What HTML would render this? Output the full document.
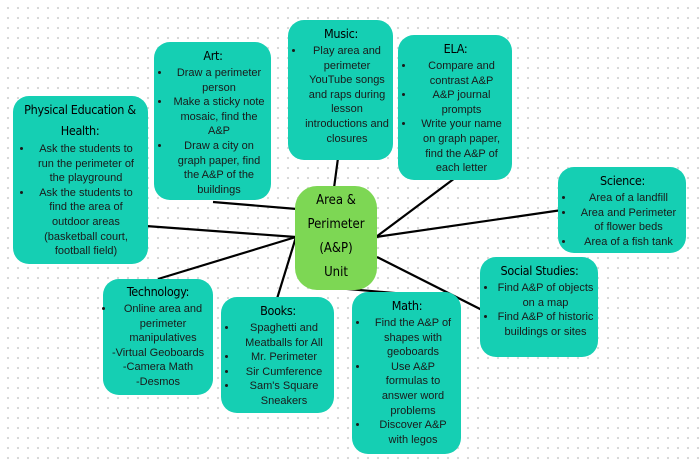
<!DOCTYPE html>
<html><head><meta charset="utf-8"><style>
body{margin:0;width:700px;height:462px;overflow:hidden;background:#fff;background-image:radial-gradient(circle,#d6d6d6 1px,transparent 1.3px);background-size:10px 10px;background-position:3px 3px;font-family:"Liberation Sans",sans-serif;position:relative}
.b{position:absolute;background:#15cfb3;border-radius:16px;box-sizing:border-box;padding:5px 4px 4px 5px;color:#1a1a1a;font-size:11px;line-height:14.6px;text-align:center}
.b h{display:block;font-family:"DejaVu Sans Condensed","Liberation Sans Narrow",sans-serif;font-size:12.5px;line-height:18px;color:#000;margin-bottom:1px;letter-spacing:-0.3px}
ul{margin:0;padding:0 0 0 12px;list-style:disc}
.c{position:absolute;left:295px;top:186px;width:82px;height:104px;background:#7dd754;border-radius:22px;text-align:center;font-family:"DejaVu Sans Condensed",sans-serif;font-size:13px;line-height:24px;padding-top:3px;box-sizing:border-box;color:#000}
svg{position:absolute;left:0;top:0}
</style></head><body>
<svg width="700" height="462"><g stroke="#000" stroke-width="2.2">
<line x1="132" y1="225" x2="296" y2="237"/>
<line x1="213" y1="202" x2="297" y2="209"/>
<line x1="158" y1="279" x2="296" y2="237"/>
<line x1="276" y1="302" x2="296" y2="237"/>
<line x1="338" y1="158" x2="334" y2="188"/>
<line x1="455" y1="178" x2="376" y2="237"/>
<line x1="562" y1="210" x2="376" y2="237"/>
<line x1="377" y1="257" x2="482" y2="310"/>
<line x1="336" y1="288" x2="406" y2="294"/>
</g></svg>
<div class="b" style="left:13px;top:96px;width:135px;height:168px;padding:3px 9px 4px 8px"><h style="line-height:21px;margin:0 -6px 1px">Physical Education &amp;<br>Health:</h><ul><li>Ask the students to run the perimeter of the playground</li><li>Ask the students to find the area of outdoor areas (basketball court, football field)</li></ul></div>
<div class="b" style="left:154px;top:42px;width:117px;height:158px"><h>Art:</h><ul><li>Draw a perimeter person</li><li>Make a sticky note mosaic, find the A&amp;P</li><li>Draw a city on graph paper, find the A&amp;P of the buildings</li></ul></div>
<div class="b" style="left:288px;top:20px;width:105px;height:140px"><h>Music:</h><ul><li>Play area and perimeter YouTube songs and raps during lesson introductions and closures</li></ul></div>
<div class="b" style="left:398px;top:35px;width:114px;height:145px"><h>ELA:</h><ul><li>Compare and contrast A&amp;P</li><li>A&amp;P journal prompts</li><li>Write your name on graph paper, find the A&amp;P of each letter</li></ul></div>
<div class="b" style="left:558px;top:167px;width:128px;height:86px"><h>Science:</h><ul><li>Area of a landfill</li><li>Area and Perimeter of flower beds</li><li>Area of a fish tank</li></ul></div>
<div class="b" style="left:480px;top:257px;width:118px;height:100px"><h>Social Studies:</h><ul><li>Find A&amp;P of objects on a map</li><li>Find A&amp;P of historic buildings or sites</li></ul></div>
<div class="b" style="left:352px;top:292px;width:109px;height:162px"><h>Math:</h><ul><li>Find the A&amp;P of shapes with geoboards</li><li>Use A&amp;P formulas to answer word problems</li><li>Discover A&amp;P with legos</li></ul></div>
<div class="b" style="left:221px;top:297px;width:113px;height:116px"><h>Books:</h><ul><li>Spaghetti and Meatballs for All</li><li>Mr. Perimeter</li><li>Sir Cumference</li><li>Sam's Square Sneakers</li></ul></div>
<div class="b" style="left:103px;top:279px;width:110px;height:116px;padding:4px 2px"><h>Technology:</h><ul style="padding-left:10px"><li>Online area and perimeter manipulatives</li></ul>-Virtual Geoboards<br>-Camera Math<br>-Desmos</div>
<div class="c">Area &amp;<br>Perimeter<br>(A&amp;P)<br>Unit</div>
</body></html>
